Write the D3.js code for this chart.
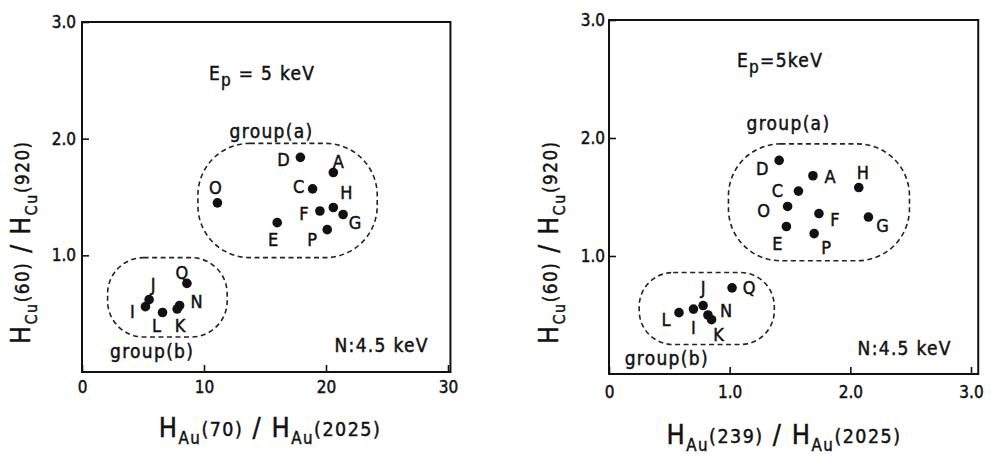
<!DOCTYPE html>
<html>
<head>
<meta charset="utf-8">
<script src="https://cdn.jsdelivr.net/npm/d3@7"></script>
<style>
  body { margin: 0; background: #fff; }
  svg { font-family: 'DejaVu Sans Condensed', 'DejaVu Sans', sans-serif; font-stretch: condensed; }
  svg text { stroke: #111; stroke-width: 0.45; }
  .frame { fill: none; stroke: #111; stroke-width: 2; }
  .group { fill: none; stroke: #222; stroke-width: 1.6; stroke-dasharray: 5,3.5; }
  .dot { fill: #111; }
  .tick line { stroke: #111; stroke-width: 1.6; }
  .tick text { fill: #111; font-size: 17px; font-family: 'DejaVu Sans Condensed', 'DejaVu Sans', sans-serif; font-stretch: condensed; }
  .lbl { font-size: 18px; fill: #111; }
  .note { font-size: 19px; fill: #111; letter-spacing: 1.3px; }
  .title { fill: #111; letter-spacing: 1.5px; }
</style>
</head>
<body>
<div id="chart"></div>
<script>
// sample names, same order in both panels
const names = ['A', 'C', 'D', 'E', 'F', 'G', 'H', 'O', 'P', 'Q', 'J', 'I', 'L', 'N', 'K'];

// left: H_Au(70)/H_Au(2025) vs H_Cu(60)/H_Cu(920)
const leftX = [20.6, 18.9, 17.9, 16.0, 19.5, 21.4, 20.6, 11.1, 20.1, 8.6, 5.5, 5.2, 6.6, 8.0, 7.8];
const leftY = [1.71, 1.57, 1.84, 1.28, 1.38, 1.35, 1.41, 1.45, 1.22, 0.76, 0.62, 0.56, 0.51, 0.57, 0.54];

// right: H_Au(239)/H_Au(2025) vs H_Cu(60)/H_Cu(920)
const rightX = [1.69, 1.57, 1.41, 1.47, 1.74, 2.15, 2.07, 1.48, 1.70, 1.02, 0.78, 0.70, 0.58, 0.82, 0.85];
const rightY = [1.68, 1.55, 1.81, 1.25, 1.36, 1.33, 1.58, 1.42, 1.19, 0.73, 0.58, 0.55, 0.52, 0.50, 0.46];

// dashed group outlines [x0, x1, y0, y1] in data units
const leftGroupA = [9.5, 24.2, 0.98, 1.96];
const leftGroupB = [2.1, 11.9, 0.30, 0.98];
const rightGroupA = [0.99, 2.49, 0.96, 1.95];
const rightGroupB = [0.25, 1.37, 0.25, 0.86];

const leftXTicks = [0, 10, 20, 30];
const leftXTickLabels = ['0', '10', '20', '30'];
const rightXTicks = [0, 1, 2, 3];
const rightXTickLabels = ['0', '1.0', '2.0', '3.0'];
const yTicks = [1, 2, 3];
const yTickLabels = ['1.0', '2.0', '3.0'];

// where each letter sits relative to its dot (px)
const leftLabelPos = {
  D: [-17, 2], A: [5, -11], C: [-14, -2], H: [13, -15], O: [-2, -15], F: [-16, 2],
  G: [12, 8], E: [-4, 17], P: [-15, 10], Q: [-5, -11], J: [4, -15], I: [-13, 5],
  L: [-6, 13], N: [17, -4], K: [3, 16]
};
const rightLabelPos = {
  D: [-17, 8], A: [17, 1], C: [-21, -1], H: [4, -15], O: [-24, 4], F: [16, 6],
  G: [14, 8], E: [-9, 17], P: [12, 14], Q: [17, 0], J: [0, -18], I: [0, 18],
  L: [-13, 7], N: [18, -5], K: [7, 15]
};

const svg = d3.select('#chart').append('svg')
    .attr('width', 995)
    .attr('height', 460);

function drawPanel(p) {
  const x = d3.scaleLinear().domain([0, p.xTicks[3]]).range(p.xRange);
  const y = d3.scaleLinear().domain([0, 3]).range(p.yRange);
  const g = svg.append('g');

  g.append('rect')
    .attr('class', 'frame')
    .attr('x', x(0))
    .attr('y', y(3))
    .attr('width', x(p.frameRight) - x(0))
    .attr('height', y(0) - y(3));

  g.append('g')
    .attr('transform', `translate(0,${y(0)})`)
    .call(d3.axisBottom(x)
      .tickValues(p.xTicks)
      .tickFormat((d, i) => p.xTickLabels[i])
      .tickSize(-7)
      .tickPadding(p.xPad))
    .call(a => a.select('.domain').remove());

  g.append('g')
    .attr('transform', `translate(${x(0)},0)`)
    .call(d3.axisLeft(y)
      .tickValues(yTicks)
      .tickFormat((d, i) => yTickLabels[i])
      .tickSize(-7)
      .tickPadding(p.yPad))
    .call(a => a.select('.domain').remove());

  // group outlines
  g.selectAll('.group')
    .data(p.groups)
    .enter().append('rect')
    .attr('class', 'group')
    .attr('x', d => x(d[0]))
    .attr('y', d => y(d[3]))
    .attr('width', d => x(d[1]) - x(d[0]))
    .attr('height', d => y(d[2]) - y(d[3]))
    .attr('rx', (d, i) => p.radius[i])
    .attr('ry', (d, i) => p.radius[i]);

  g.selectAll('.dot')
    .data(names)
    .enter().append('circle')
    .attr('class', 'dot')
    .attr('cx', (d, i) => x(p.xs[i]))
    .attr('cy', (d, i) => y(p.ys[i]))
    .attr('r', 4.8);

  g.selectAll('.lbl')
    .data(names)
    .enter().append('text')
    .attr('class', 'lbl')
    .attr('x', (d, i) => x(p.xs[i]) + p.labelPos[d][0])
    .attr('y', (d, i) => y(p.ys[i]) + p.labelPos[d][1])
    .attr('text-anchor', 'middle')
    .attr('dominant-baseline', 'central')
    .text(d => d);

  // Ep = 5 keV
  const ep = g.append('text').attr('class', 'note')
    .attr('x', x(p.ep[0])).attr('y', y(p.ep[1]));
  ep.append('tspan').text('E');
  ep.append('tspan').attr('dy', 6).attr('font-size', 17).text('p');
  ep.append('tspan').attr('dy', -6).text(p.epText);

  g.selectAll('.grp')
    .data(p.groupLabels)
    .enter().append('text')
    .attr('class', 'note')
    .attr('font-size', 21)
    .attr('x', d => x(d[0]))
    .attr('y', d => y(d[1]))
    .text(d => d[2]);

  g.append('text').attr('class', 'note')
    .attr('x', x(p.nNote[0])).attr('y', y(p.nNote[1]))
    .text(p.nText);

  // x title
  const xt = g.append('text').attr('class', 'title')
    .attr('x', p.xTitle[0]).attr('y', p.xTitle[1])
    .attr('text-anchor', 'middle');
  addRatio(xt, 'Au', p.xTitleNums, 27);

  // y title
  const yt = g.append('text').attr('class', 'title')
    .attr('transform', `translate(${p.yTitle[0]},${p.yTitle[1]}) rotate(-90)`)
    .attr('text-anchor', 'middle');
  addRatio(yt, 'Cu', p.yTitleNums, 26);
}

function addRatio(t, el, nums, size) {
  t.append('tspan').attr('font-size', size).text('H');
  t.append('tspan').attr('font-size', size * 0.62).attr('dy', 7).text(el);
  t.append('tspan').attr('font-size', size * 0.72).attr('dy', -8).text('(' + nums[0] + ')');
  t.append('tspan').attr('font-size', size).attr('dy', 1).text(' / ');
  t.append('tspan').attr('font-size', size).text('H');
  t.append('tspan').attr('font-size', size * 0.62).attr('dy', 7).text(el);
  t.append('tspan').attr('font-size', size * 0.72).attr('dy', -8).text('(' + nums[1] + ')');
}

drawPanel({
  xs: leftX, ys: leftY,
  xTicks: leftXTicks, xTickLabels: leftXTickLabels,
  xRange: [82, 448], yRange: [372, 22], frameRight: 30.2,
  xPad: 9, yPad: 6,
  groups: [leftGroupA, leftGroupB], radius: [52, 36],
  labelPos: leftLabelPos,
  ep: [10.4, 2.50], epText: ' = 5 keV',
  groupLabels: [[12.1, 2.01, 'group(a)'], [2.3, 0.12, 'group(b)']],
  nNote: [20.7, 0.17], nText: 'N:4.5 keV',
  xTitle: [270, 437], xTitleNums: ['70', '2025'],
  yTitle: [30, 242], yTitleNums: ['60', '920']
});

drawPanel({
  xs: rightX, ys: rightY,
  xTicks: rightXTicks, xTickLabels: rightXTickLabels,
  xRange: [609, 971], yRange: [374, 20], frameRight: 3.06,
  xPad: 12, yPad: 4,
  groups: [rightGroupA, rightGroupB], radius: [52, 34],
  labelPos: rightLabelPos,
  ep: [1.06, 2.60], epText: '=5keV',
  groupLabels: [[1.14, 2.07, 'group(a)'], [0.13, 0.08, 'group(b)']],
  nNote: [2.06, 0.16], nText: 'N:4.5 keV',
  xTitle: [784, 444], xTitleNums: ['239', '2025'],
  yTitle: [558, 242], yTitleNums: ['60', '920']
});
</script>
</body>
</html>
